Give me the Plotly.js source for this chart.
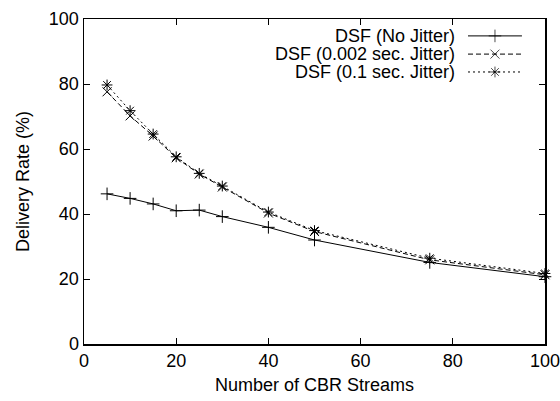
<!DOCTYPE html>
<html><head><meta charset="utf-8">
<script src="https://cdn.plot.ly/plotly-3.0.1.min.js"></script>
<style>body{margin:0;background:#fff}#c{width:560px;height:401px}</style>
</head><body><div id="c"></div>
<script>
const streams = [5, 10, 15, 20, 25, 30, 40, 50, 75, 100];
const noJitter = [46.2, 44.8, 43.1, 41.0, 41.2, 39.2, 35.9, 32.0, 25.1, 20.7];
const jitter002 = [77.6, 70.2, 64.0, 57.3, 52.3, 48.3, 40.3, 34.6, 25.9, 21.3];
const jitter01 = [79.7, 71.8, 64.6, 57.6, 52.5, 48.6, 40.6, 34.9, 26.4, 21.7];
const seriesNames = ['DSF (No Jitter)', 'DSF (0.002 sec. Jitter)', 'DSF (0.1 sec. Jitter)'];
const xTicks = [0, 20, 40, 60, 80, 100];
const yTicks = [0, 20, 40, 60, 80, 100];

const styles = [
  {dash: 'solid', symbol: 'cross-thin-open'},
  {dash: '5px,3px', symbol: 'x-thin-open'},
  {dash: '2px,3px', symbol: 'asterisk-open'}
];
const values = [noJitter, jitter002, jitter01];
const font = 'Liberation Sans, Arial, Helvetica, sans-serif';

const traces = values.map((v, i) => ({
  x: streams, y: v, name: seriesNames[i], type: 'scatter', mode: 'lines+markers',
  line: {color: '#000', width: 1, dash: styles[i].dash},
  marker: {symbol: styles[i].symbol, size: 9, color: '#000', line: {color: '#000', width: 1}},
  showlegend: false, cliponaxis: false
}));

// legend key (gnuplot style: text on left, sample on right), drawn on overlay axes in 0..1
const keyRows = [0.948, 0.892, 0.837];
const keyX0 = 0.833, keyX1 = 0.950, keyTextX = 0.81;
const annotations = [];
values.forEach((v, i) => {
  traces.push({
    x: [keyX0, (keyX0 + keyX1) / 2, keyX1], y: [keyRows[i], keyRows[i], keyRows[i]],
    xaxis: 'x2', yaxis: 'y2', type: 'scatter', mode: 'lines+markers', showlegend: false,
    line: {color: '#000', width: 1, dash: styles[i].dash},
    marker: {symbol: styles[i].symbol, size: [0, 9, 0], color: '#000', line: {color: '#000', width: 1}},
    hoverinfo: 'skip'
  });
  annotations.push({
    xref: 'x2', yref: 'y2', x: keyTextX, y: keyRows[i], text: seriesNames[i],
    xanchor: 'right', yanchor: 'middle', showarrow: false,
    font: {family: font, size: 18, color: '#000'}
  });
});

const axisCommon = {
  showgrid: false, zeroline: false, showline: true, linecolor: '#000', linewidth: 1.5,
  mirror: 'allticks', ticks: 'inside', ticklen: 6, tickwidth: 1, tickcolor: '#000',
  ticklabeloverflow: 'allow',
  tickfont: {family: font, size: 18, color: '#000'}
};

const layout = {
  width: 560, height: 401, margin: {l: 84, r: 15, t: 19, b: 57},
  paper_bgcolor: '#fff', plot_bgcolor: '#fff', showlegend: false,
  xaxis: Object.assign({}, axisCommon, {
    range: [0, 100.0001], tickvals: xTicks, ticktext: xTicks.map(String),
    title: {text: 'Number of CBR Streams', font: {family: font, size: 18, color: '#000'}, standoff: 8}
  }),
  yaxis: Object.assign({}, axisCommon, {
    range: [0, 100], tickvals: yTicks, ticktext: yTicks.map(String),
    title: {text: 'Delivery Rate (%)', font: {family: font, size: 18, color: '#000'}, standoff: 14}
  }),
  xaxis2: {overlaying: 'x', range: [0, 1], visible: false, fixedrange: true},
  yaxis2: {overlaying: 'y', range: [0, 1], visible: false, fixedrange: true},
  annotations: annotations
};

Plotly.newPlot('c', traces, layout, {staticPlot: true, displayModeBar: false});
</script></body></html>
